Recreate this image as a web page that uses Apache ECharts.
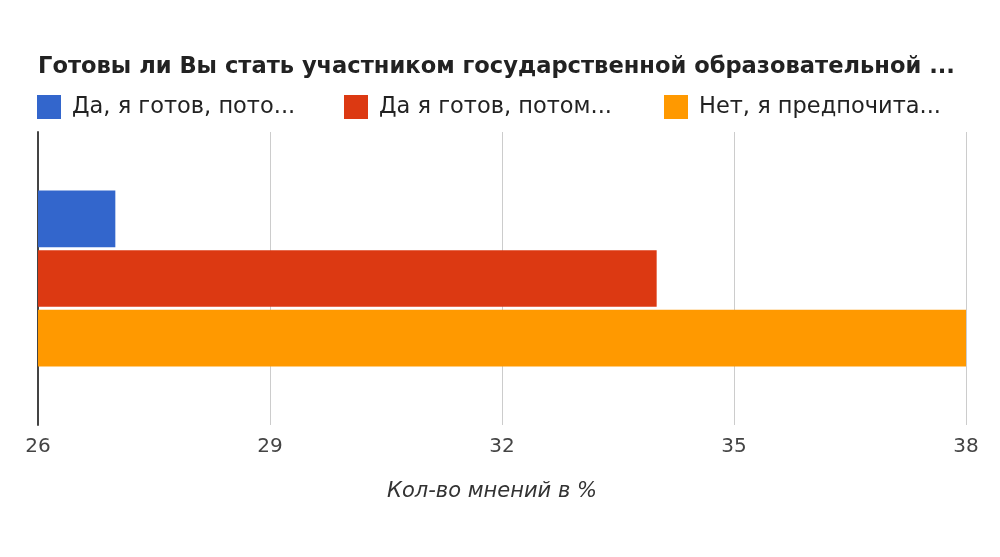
<!DOCTYPE html>
<html>
<head>
<meta charset="utf-8">
<script src="https://cdn.jsdelivr.net/npm/echarts@6/dist/echarts.min.js"></script>
<style>
	html, body { margin: 0; padding: 0; background: #fff; }
	#chart { width: 1000px; height: 557px; }
</style>
</head>
<body>
<div id="chart"></div>
<script>
var titleText = 'Готовы ли Вы стать участником государственной образовательной ...';
var axisTitle = 'Кол-во мнений в %';
var categories = ['Ответ'];
var seriesNames = ['Да, я готов, пото...', 'Да я готов, потом...', 'Нет, я предпочита...'];
var seriesValues = [[27], [34], [38]];
var seriesColors = ['#3366cc', '#dc3912', '#ff9900'];
var xTicks = [26, 29, 32, 35, 38];

var font = 'DejaVu Sans, Liberation Sans, sans-serif';
var Chart = echarts.init(document.getElementById('chart'));

// одна легенда на каждую серию, чтобы поставить их как в оригинале
var legendLeft = [37, 344, 664];
var legends = [];
for(var i = 0; i < seriesNames.length; i++) {
	legends.push({
		data: [seriesNames[i]],
		left: legendLeft[i],
		top: 95,
		padding: 0,
		icon: 'rect',
		itemWidth: 24,
		itemHeight: 24,
		selectedMode: false,
		textStyle: {
			fontFamily: font,
			fontSize: 22.5,
			color: '#222',
			padding: [0, 0, 0, 6]
		}
	});
}

var series = [];
for(var i = 0; i < seriesNames.length; i++) {
	series.push({
		name: seriesNames[i],
		type: 'bar',
		data: seriesValues[i],
		itemStyle: { color: seriesColors[i] },
		barGap: '5%',
		barCategoryGap: '40%'
	});
}

option = {
	backgroundColor: '#fff',
	animation: false,
	title: {
		text: titleText,
		left: 33,
		top: 51,
		textStyle: {
			fontFamily: font,
			fontSize: 22.6,
			fontWeight: 'bold',
			color: '#222'
		}
	},
	legend: legends,
	grid: {
		left: 38,
		right: 34,
		top: 132,
		bottom: 132
	},
	xAxis: {
		type: 'value',
		min: xTicks[0],
		max: xTicks[xTicks.length - 1],
		interval: 3,
		name: axisTitle,
		nameLocation: 'middle',
		nameGap: 56,
		nameTextStyle: {
			fontFamily: font,
			fontSize: 21,
			fontStyle: 'italic',
			color: '#333',
			padding: [0, 20, 0, 0]
		},
		axisLine: { show: false },
		axisTick: { show: false },
		axisLabel: {
			fontFamily: font,
			fontSize: 20,
			color: '#444',
			margin: 12
		},
		splitLine: {
			lineStyle: { color: '#cccccc', width: 1 }
		}
	},
	yAxis: {
		type: 'category',
		inverse: true,
		data: categories,
		axisLabel: { show: false },
		axisTick: { show: false },
		axisLine: {
			show: true,
			lineStyle: { color: '#444', width: 2 }
		}
	},
	series: series
};
Chart.setOption(option);
</script>
</body>
</html>
